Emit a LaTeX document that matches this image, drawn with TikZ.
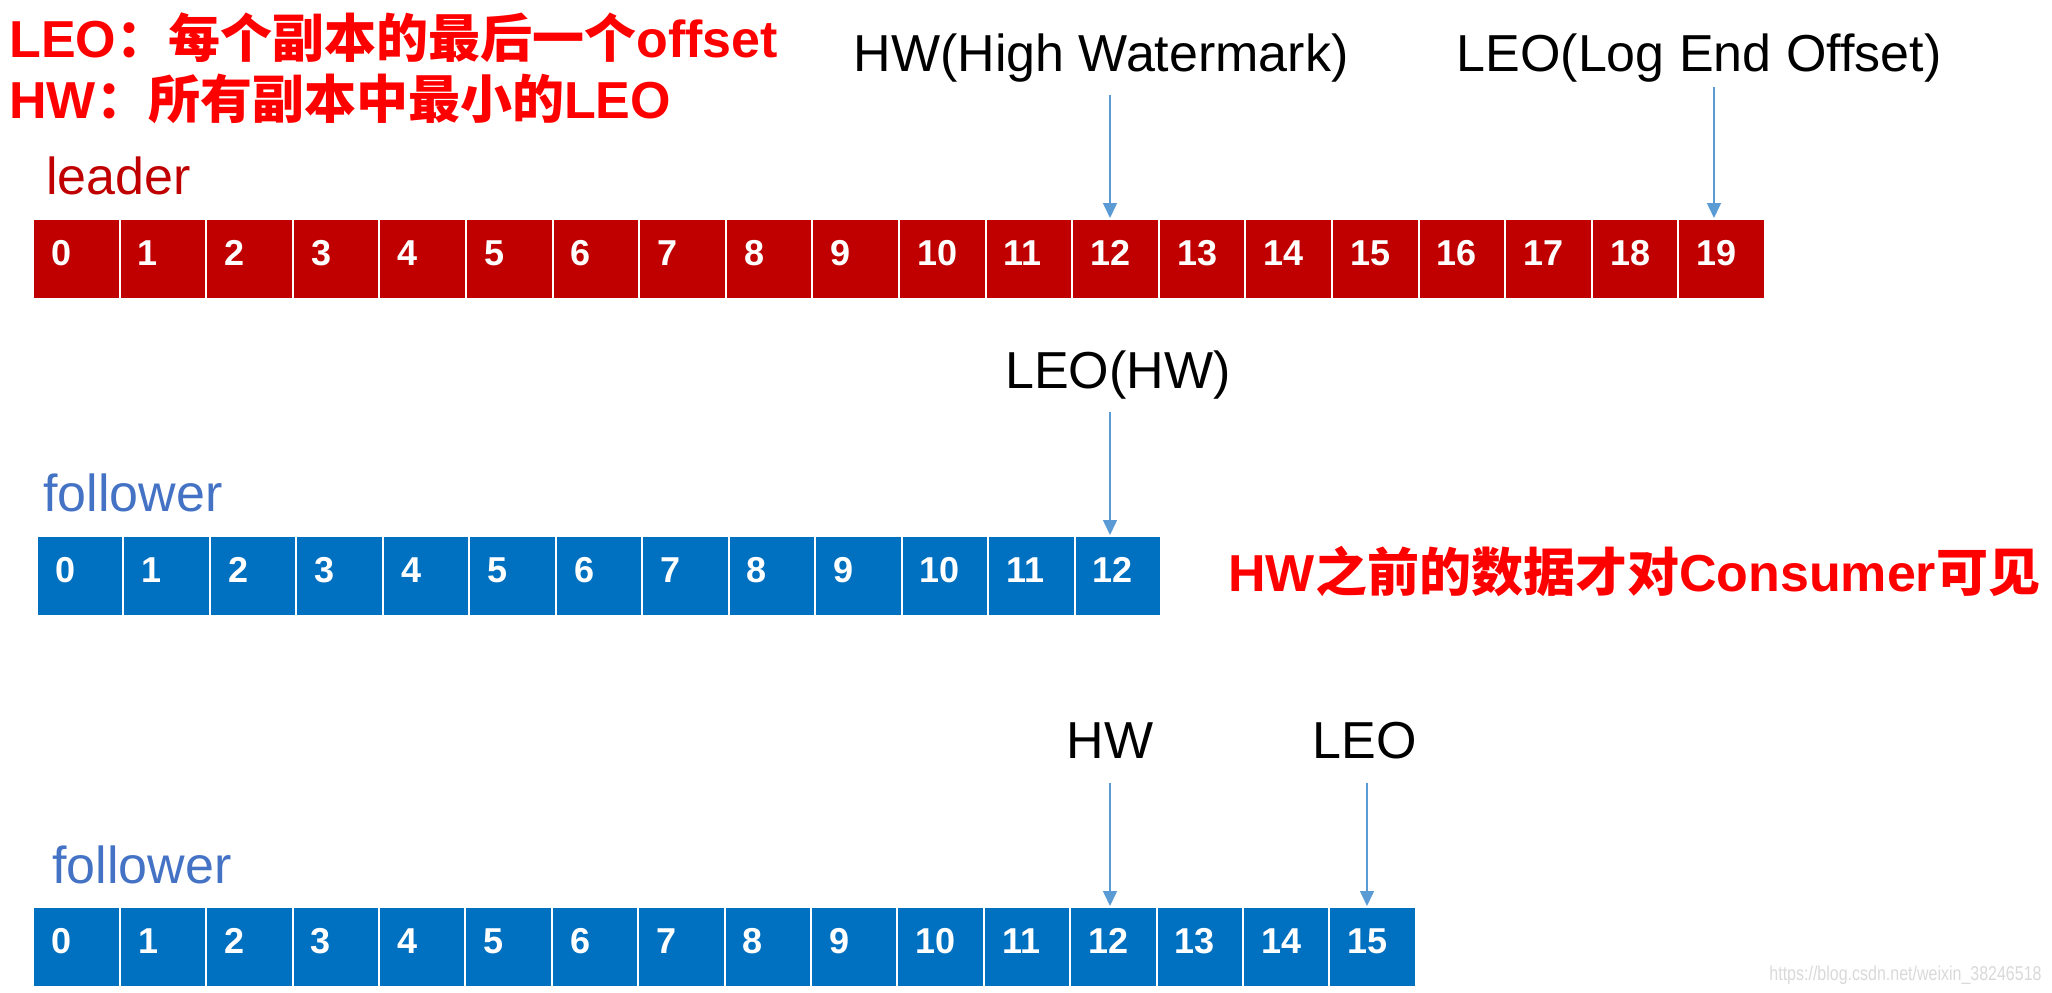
\documentclass[tikz,border=0pt]{standalone}
\usepackage{graphicx}
\usepackage{fontspec}
\setmainfont{Liberation Sans}
\newfontfamily\cjk{Noto Sans CJK SC}
\usetikzlibrary{arrows.meta}
\definecolor{leadred}{HTML}{C00000}
\definecolor{folblue}{HTML}{0070C0}
\definecolor{follab}{HTML}{4472C4}
\definecolor{arrblue}{HTML}{5B9BD5}
\definecolor{notered}{HTML}{FF0000}
\definecolor{wmgray}{HTML}{D9D9D9}
\begin{document}
\begin{tikzpicture}[x=0.5pt,y=-0.5pt,
  cell/.style={draw=white,line width=1pt,minimum width=43.25pt,minimum height=40pt,
    inner xsep=9pt,inner ysep=0pt,text width=25pt,align=left,
    text height=12.9pt,text depth=6pt,text=white,
    font=\fontsize{18pt}{20pt}\selectfont\bfseries,anchor=west},
  lcell/.style={cell,fill=leadred},
  fcell/.style={cell,fill=folblue},
  big/.style={font=\fontsize{26pt}{30pt}\selectfont,inner sep=0pt,anchor=base},
  rowlab/.style={big,anchor=base west},
  note/.style={big,text=notered,anchor=base west},
  arr/.style={draw=arrblue,line width=0.75pt,-{Triangle[width=7pt,length=7.5pt]}}
]
\useasboundingbox (0,0) rectangle (2052,992);

% notes
\node[note] (n1) at (9,57) {{\bfseries LEO}{\cjk\bfseries ：每个副本的最后一个}{\bfseries offset}};
\node[note] (n2) at (9,118) {{\bfseries HW}{\cjk\bfseries ：所有副本中最小的}{\bfseries LEO}};
\node[note] (vis) at (1228,591) {{\bfseries HW}{\cjk\bfseries 之前的数据才对}{\bfseries Consumer}{\cjk\bfseries 可见}};

% row labels
\node[rowlab,text=leadred] (leaderlab) at (46,194) {leader};
\node[rowlab,text=follab] (fol1lab) at (43,511.7) {follower};
\node[rowlab,text=follab] (fol2lab) at (52,883) {follower};

% cells
\foreach \i in {0,...,19} \node[lcell] (L\i) at (32+\i*86.6,259) {\i};
\foreach \i in {0,...,12} \node[fcell] (F\i) at (36+\i*86.46,576) {\i};
\foreach \i in {0,...,15} \node[fcell] (G\i) at (32.4+\i*86.4,947) {\i};

% pointer labels
\node[big] (hwlab) at (1101,71) {HW(High Watermark)};
\node[big] (leolab) at (1699,71) {LEO(Log End Offset)};
\node[big] (leohwlab) at (1118,388) {LEO(HW)};
\node[big] (hwlab2) at (1110,758) {HW};
\node[big] (leolab2) at (1365,758) {LEO};

% arrows
\coordinate (a1) at (1110,95);
\coordinate (a2) at (1714,87);
\coordinate (a3) at (1110,412);
\coordinate (a4) at (1110,783);
\coordinate (a5) at (1367,783);
\draw[arr] (a1) -- (a1 |- L12.north);
\draw[arr] (a2) -- (a2 |- L19.north);
\draw[arr] (a3) -- (a3 |- F12.north);
\draw[arr] (a4) -- (a4 |- G12.north);
\draw[arr] (a5) -- (a5 |- G15.north);

% watermark
\node[anchor=base east,text=wmgray,inner sep=0pt,font=\fontsize{10pt}{12pt}\selectfont] (wm) at (2042,980) {\scalebox{0.8}[1]{https://blog.csdn.net/weixin\_38246518}};
\end{tikzpicture}
\end{document}
